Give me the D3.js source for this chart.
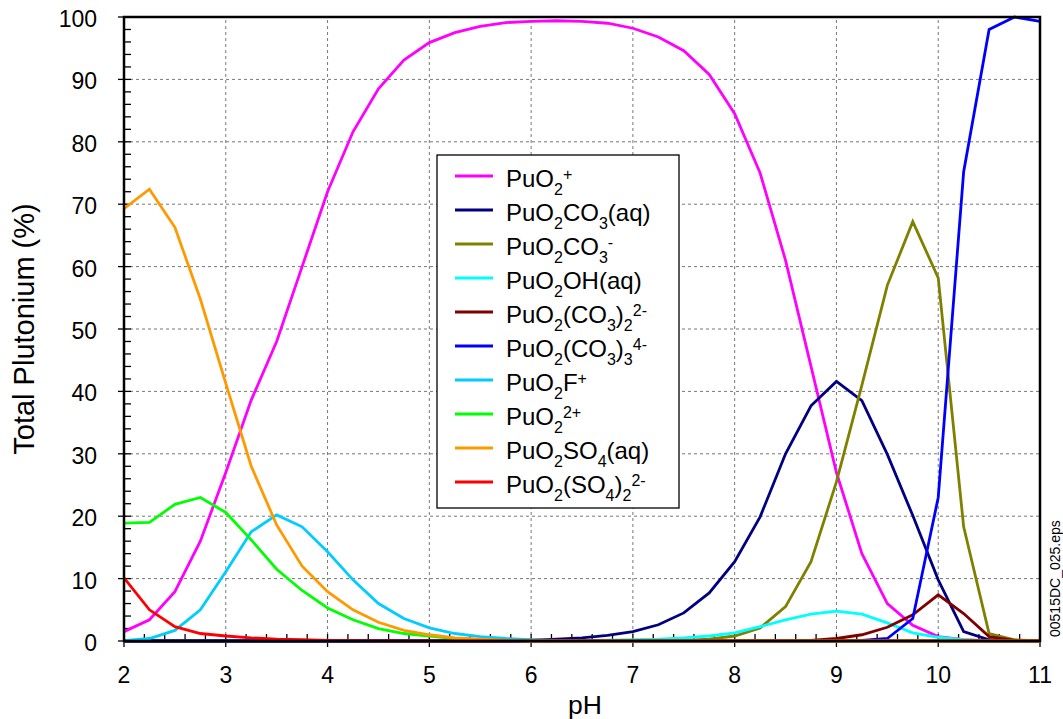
<!DOCTYPE html>
<html>
<head>
<meta charset="utf-8">
<script src="https://cdn.jsdelivr.net/npm/d3@7"></script>
<style>
  html, body { margin: 0; padding: 0; background: #fff; }
  svg { display: block; font-family: "Liberation Sans", Arial, sans-serif; }
</style>
</head>
<body>
<svg id="chart" width="1063" height="719"></svg>
<script>
// pH grid (0.25 steps from 2 to 11)
const pH = d3.range(2, 11.001, 0.25);

// Species distribution, % of total plutonium at each pH
const puo2 =       [1.5, 3.4, 7.9, 16, 27, 38.6, 48, 60, 72, 81.6, 88.5, 93.1, 95.9, 97.5, 98.5, 99.1, 99.3, 99.4, 99.3, 99.0, 98.2, 96.8, 94.6, 90.8, 84.5, 75, 61, 44, 27, 14, 6, 2.5, 0.7, 0.2, 0, 0, 0];
const puo2co3aq =  [0, 0, 0, 0, 0, 0, 0, 0, 0, 0, 0, 0, 0, 0, 0, 0, 0.15, 0.3, 0.5, 0.9, 1.5, 2.6, 4.5, 7.7, 12.7, 19.9, 30, 37.7, 41.6, 38.5, 29.9, 20.1, 9.8, 1.5, 0.2, 0, 0];
const puo2co3m =   [0, 0, 0, 0, 0, 0, 0, 0, 0, 0, 0, 0, 0, 0, 0, 0, 0, 0, 0, 0, 0, 0, 0.1, 0.3, 0.8, 2.1, 5.5, 12.7, 25.5, 41, 57, 67.2, 58.2, 18.3, 1.2, 0.2, 0];
const puo2ohaq =   [0, 0, 0, 0, 0, 0, 0, 0, 0, 0, 0, 0, 0, 0, 0, 0, 0, 0.05, 0.1, 0.15, 0.2, 0.3, 0.5, 0.8, 1.3, 2.3, 3.4, 4.3, 4.8, 4.3, 2.9, 1.3, 0.6, 0.2, 0, 0, 0];
const puo2co32 =   [0, 0, 0, 0, 0, 0, 0, 0, 0, 0, 0, 0, 0, 0, 0, 0, 0, 0, 0, 0, 0, 0, 0, 0, 0, 0, 0, 0.1, 0.4, 1.0, 2.2, 4.2, 7.4, 4.4, 0.7, 0.1, 0];
const puo2co33 =   [0, 0, 0, 0, 0, 0, 0, 0, 0, 0, 0, 0, 0, 0, 0, 0, 0, 0, 0, 0, 0, 0, 0, 0, 0, 0, 0, 0, 0, 0.1, 0.4, 3.6, 23, 75.2, 98.0, 100, 99.3];
const puo2f =      [0.05, 0.4, 1.7, 5.0, 11.1, 17.5, 20.2, 18.3, 14.3, 9.8, 6.0, 3.6, 2.1, 1.2, 0.7, 0.4, 0.2, 0.1, 0, 0, 0, 0, 0, 0, 0, 0, 0, 0, 0, 0, 0, 0, 0, 0, 0, 0, 0];
const puo2_2p =    [18.9, 19.0, 21.9, 23.0, 20.6, 16.2, 11.5, 8.1, 5.3, 3.4, 2.0, 1.2, 0.8, 0.4, 0.2, 0.1, 0, 0, 0, 0, 0, 0, 0, 0, 0, 0, 0, 0, 0, 0, 0, 0, 0, 0, 0, 0, 0];
const puo2so4aq =  [69.3, 72.4, 66.3, 54.8, 41.3, 28.0, 18.6, 12.0, 7.9, 5.0, 3.0, 1.7, 1.0, 0.5, 0.3, 0.1, 0, 0, 0, 0, 0, 0, 0, 0, 0, 0, 0, 0, 0, 0, 0, 0, 0, 0, 0, 0, 0];
const puo2so42 =   [10.1, 5.0, 2.3, 1.2, 0.8, 0.5, 0.3, 0.2, 0.1, 0.05, 0, 0, 0, 0, 0, 0, 0, 0, 0, 0, 0, 0, 0, 0, 0, 0, 0, 0, 0, 0, 0, 0, 0, 0, 0, 0, 0];

// Legend labels as runs of [text, role]; role: "" normal, "sub", "sup"
const labels = [
  [["PuO",""],["2","sub"],["+","sup"]],
  [["PuO",""],["2","sub"],["CO",""],["3","sub"],["(aq)",""]],
  [["PuO",""],["2","sub"],["CO",""],["3","sub"],["-","sup"]],
  [["PuO",""],["2","sub"],["OH(aq)",""]],
  [["PuO",""],["2","sub"],["(CO",""],["3","sub"],[")",""],["2","sub"],["2-","sup"]],
  [["PuO",""],["2","sub"],["(CO",""],["3","sub"],[")",""],["3","sub"],["4-","sup"]],
  [["PuO",""],["2","sub"],["F",""],["+","sup"]],
  [["PuO",""],["2","sub"],["2+","sup"]],
  [["PuO",""],["2","sub"],["SO",""],["4","sub"],["(aq)",""]],
  [["PuO",""],["2","sub"],["(SO",""],["4","sub"],[")",""],["2","sub"],["2-","sup"]]
];
const seriesValues = [puo2, puo2co3aq, puo2co3m, puo2ohaq, puo2co32, puo2co33, puo2f, puo2_2p, puo2so4aq, puo2so42];
const colors = ["#ff00ff", "#000080", "#808000", "#00ffff", "#800000", "#0000ff", "#00ccff", "#00ff00", "#ff9900", "#ff0000"];

const xTicks = d3.range(2, 12, 1);
const yTicks = d3.range(0, 101, 10);

const svg = d3.select("#chart");
const margin = { left: 124, right: 23, top: 17, bottom: 78 };
const W = 1063, H = 719;

const x = d3.scaleLinear().domain([2, 11]).range([margin.left, W - margin.right]);
const y = d3.scaleLinear().domain([0, 100]).range([H - margin.bottom, margin.top]);

const plot = svg.append("g");

// dashed grid
plot.append("g").selectAll("line").data(xTicks.slice(1, -1)).join("line")
  .attr("x1", d => x(d)).attr("x2", d => x(d))
  .attr("y1", y(0)).attr("y2", y(100))
  .attr("stroke", "#777").attr("stroke-width", 1).attr("stroke-dasharray", "3,3");
plot.append("g").selectAll("line").data(yTicks.slice(1, -1)).join("line")
  .attr("x1", x(2)).attr("x2", x(11))
  .attr("y1", d => y(d)).attr("y2", d => y(d))
  .attr("stroke", "#777").attr("stroke-width", 1).attr("stroke-dasharray", "3,3");

// inward minor ticks and major ticks
const xMinor = d3.range(2, 11.001, 0.2).filter(v => Math.abs(v - Math.round(v)) > 1e-6);
const yMinor = d3.range(0, 100.001, 2).filter(v => v % 10 !== 0);
const tickG = plot.append("g").attr("stroke", "#000").attr("stroke-width", 1.3);
tickG.selectAll(".xm").data(xMinor).join("line")
  .attr("x1", d => x(d)).attr("x2", d => x(d)).attr("y1", y(0)).attr("y2", y(0) - 7);
tickG.selectAll(".xM").data(xTicks).join("line")
  .attr("x1", d => x(d)).attr("x2", d => x(d)).attr("y1", y(0) + 6).attr("y2", y(0) - 7);
tickG.selectAll(".ym").data(yMinor).join("line")
  .attr("x1", x(2)).attr("x2", x(2) + 7).attr("y1", d => y(d)).attr("y2", d => y(d));
tickG.selectAll(".yM").data(yTicks).join("line")
  .attr("x1", x(2) - 6).attr("x2", x(2) + 7).attr("y1", d => y(d)).attr("y2", d => y(d));

// species curves
const line = d3.line().x((d, i) => x(pH[i])).y(d => y(d));
plot.append("g").selectAll("path").data(seriesValues).join("path")
  .attr("d", d => line(d))
  .attr("fill", "none")
  .attr("stroke", (d, i) => colors[i])
  .attr("stroke-width", 2.8)
  .attr("stroke-linejoin", "miter");

// frame
plot.append("rect")
  .attr("x", x(2)).attr("y", y(100))
  .attr("width", x(11) - x(2)).attr("height", y(0) - y(100))
  .attr("fill", "none").attr("stroke", "#000").attr("stroke-width", 2.5);

// tick labels
svg.append("g").selectAll("text").data(xTicks).join("text")
  .attr("x", d => x(d)).attr("y", y(0) + 42)
  .attr("text-anchor", "middle").attr("font-size", 23).text(d => d);
svg.append("g").selectAll("text").data(yTicks).join("text")
  .attr("x", x(2) - 27).attr("y", d => y(d) + 10)
  .attr("text-anchor", "end").attr("font-size", 23).text(d => d);

// axis titles
svg.append("text").attr("x", 585).attr("y", 714)
  .attr("text-anchor", "middle").attr("font-size", 26.5).text("pH");
svg.append("text")
  .attr("transform", `translate(33.5,${y(50)}) rotate(-90)`)
  .attr("text-anchor", "middle").attr("font-size", 29).text("Total Plutonium (%)");

// figure id
svg.append("text")
  .attr("transform", "translate(1060,637) rotate(-90)")
  .attr("text-anchor", "start").attr("font-size", 14).text("00515DC_025.eps");

// legend
const lg = svg.append("g");
lg.append("rect").attr("x", 437).attr("y", 155).attr("width", 242).attr("height", 353)
  .attr("fill", "#fff").attr("stroke", "#000").attr("stroke-width", 1.3);
labels.forEach((runs, i) => {
  const cy = 176 + i * 34;
  lg.append("line").attr("x1", 455).attr("x2", 493).attr("y1", cy).attr("y2", cy)
    .attr("stroke", colors[i]).attr("stroke-width", 2.8);
  const t = lg.append("text").attr("x", 506).attr("y", cy + 11).attr("font-size", 24);
  let cur = 0;
  runs.forEach(([s, role]) => {
    const target = role === "sub" ? 8 : role === "sup" ? -7 : 0;
    t.append("tspan").attr("dy", target - cur)
      .attr("font-size", role ? 16 : 24).text(s);
    cur = target;
  });
});
</script>
</body>
</html>
